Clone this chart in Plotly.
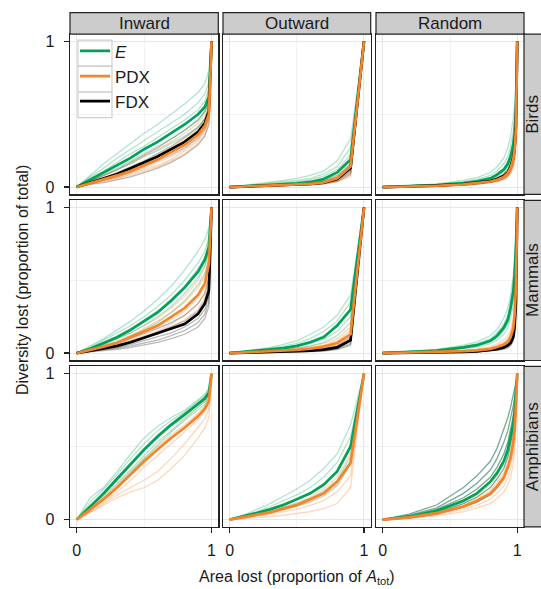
import plotly.graph_objects as go
from plotly.subplots import make_subplots

# ---------------- data ----------------
ROWS = ["Birds", "Mammals", "Amphibians"]
COLS = ["Inward", "Outward", "Random"]
SERIES = ["E", "PDX", "FDX"]
LEGEND_NAMES = ["<i>E</i>", "PDX", "FDX"]
TICKS = [0, 1]
TICK_LABELS = ["0", "1"]

X_IN = [0, .1, .2, .3, .4, .5, .6, .7, .8, .9, .95, .98, 1]
X_OUT = [0, .1, .2, .3, .4, .5, .6, .7, .8, .9, 1]
X_RAND = [0, .2, .4, .6, .7, .8, .85, .9, .93, .95, .97, .98, .99, 1]

# Birds / Inward
BIRDS_IN_E = [0, .05, .10, .15, .20, .26, .31, .37, .43, .50, .55, .62, 1]
BIRDS_IN_E_RUNS = [
    [0, .08, .16, .23, .30, .37, .43, .50, .57, .65, .71, .80, 1],
    [0, .07, .13, .20, .26, .32, .38, .44, .50, .58, .64, .72, 1],
    [0, .06, .11, .17, .23, .28, .34, .40, .46, .53, .59, .67, 1],
    [0, .04, .09, .13, .18, .23, .28, .33, .39, .46, .52, .58, 1],
    [0, .04, .08, .12, .16, .21, .25, .30, .35, .41, .47, .54, 1],
]
BIRDS_IN_PDX = [0, .025, .05, .08, .11, .15, .19, .24, .29, .36, .42, .50, 1]
BIRDS_IN_PDX_RUNS = [
    [0, .04, .08, .12, .16, .21, .26, .31, .37, .44, .50, .58, 1],
    [0, .03, .06, .10, .13, .17, .22, .27, .33, .40, .46, .54, 1],
    [0, .02, .05, .07, .10, .13, .17, .21, .26, .33, .39, .47, 1],
    [0, .02, .04, .06, .08, .11, .14, .18, .23, .30, .36, .44, 1],
    [0, .02, .04, .06, .09, .12, .15, .19, .25, .32, .38, .48, 1],
]
BIRDS_IN_FDX = [0, .03, .06, .09, .13, .17, .21, .26, .31, .38, .44, .52, 1]
BIRDS_IN_FDX_RUNS = [
    [0, .04, .08, .12, .17, .22, .27, .33, .39, .46, .52, .60, 1],
    [0, .03, .06, .10, .14, .18, .23, .28, .34, .41, .47, .55, 1],
    [0, .02, .05, .07, .10, .14, .18, .22, .27, .34, .40, .48, 1],
    [0, .02, .03, .05, .07, .10, .13, .17, .22, .29, .35, .43, 1],
    [0, .03, .05, .08, .11, .15, .19, .24, .30, .37, .43, .51, 1],
]

# Birds / Outward
BIRDS_OUT_E = [0, .005, .01, .015, .02, .025, .035, .055, .10, .19, 1]
BIRDS_OUT_E_RUNS = [
    [0, .01, .02, .03, .045, .06, .08, .11, .18, .33, 1],
    [0, .008, .015, .025, .035, .045, .06, .09, .14, .27, 1],
    [0, .006, .012, .02, .028, .035, .05, .075, .12, .22, 1],
    [0, .005, .01, .015, .02, .027, .038, .06, .10, .18, 1],
    [0, .004, .008, .012, .017, .022, .03, .045, .08, .15, 1],
]
BIRDS_OUT_PDX = [0, .003, .006, .01, .013, .017, .022, .032, .06, .14, 1]
BIRDS_OUT_PDX_RUNS = [
    [0, .005, .01, .015, .02, .027, .035, .05, .08, .18, 1],
    [0, .004, .008, .012, .016, .021, .028, .04, .065, .15, 1],
    [0, .003, .006, .009, .012, .016, .021, .03, .05, .12, 1],
    [0, .002, .004, .007, .01, .013, .017, .025, .04, .09, 1],
    [0, .002, .004, .006, .008, .011, .015, .022, .035, .07, 1],
]
BIRDS_OUT_FDX = [0, .003, .006, .009, .012, .016, .021, .03, .055, .13, 1]
BIRDS_OUT_FDX_RUNS = [
    [0, .004, .008, .012, .016, .021, .028, .04, .07, .16, 1],
    [0, .003, .006, .01, .013, .017, .023, .033, .058, .13, 1],
    [0, .002, .005, .008, .011, .014, .019, .027, .047, .11, 1],
    [0, .002, .004, .006, .008, .011, .015, .022, .038, .085, 1],
    [0, .003, .005, .008, .01, .013, .018, .026, .045, .10, 1],
]

# Birds / Random
BIRDS_RAND_E = [0, .006, .014, .028, .04, .06, .085, .12, .16, .21, .29, .37, .52, 1]
BIRDS_RAND_E_RUNS = [
    [0, .01, .022, .045, .065, .10, .14, .20, .27, .35, .47, .57, .72, 1],
    [0, .008, .018, .036, .052, .08, .11, .16, .21, .28, .38, .47, .62, 1],
    [0, .007, .015, .03, .044, .066, .092, .13, .18, .23, .32, .40, .55, 1],
    [0, .005, .012, .024, .035, .053, .075, .105, .14, .185, .26, .33, .47, 1],
    [0, .004, .01, .02, .03, .045, .063, .09, .12, .16, .22, .28, .41, 1],
]
BIRDS_RAND_PDX = [0, .004, .009, .018, .026, .038, .05, .07, .095, .13, .19, .26, .40, 1]
BIRDS_RAND_PDX_RUNS = [
    [0, .005, .012, .024, .034, .05, .066, .09, .12, .16, .23, .30, .45, 1],
    [0, .004, .01, .02, .029, .042, .056, .078, .105, .14, .20, .27, .41, 1],
    [0, .004, .008, .016, .023, .034, .046, .064, .087, .12, .17, .23, .36, 1],
    [0, .003, .007, .014, .02, .03, .04, .056, .076, .10, .15, .20, .32, 1],
    [0, .003, .006, .012, .017, .026, .035, .05, .068, .09, .13, .18, .29, 1],
]
BIRDS_RAND_FDX = [0, .004, .01, .02, .028, .041, .055, .077, .10, .14, .20, .27, .42, 1]
BIRDS_RAND_FDX_RUNS = [
    [0, .005, .012, .023, .033, .048, .064, .088, .12, .16, .22, .30, .45, 1],
    [0, .004, .01, .019, .027, .04, .053, .074, .10, .135, .19, .26, .40, 1],
    [0, .003, .008, .016, .022, .033, .045, .063, .085, .115, .17, .23, .36, 1],
    [0, .003, .007, .014, .02, .03, .04, .056, .076, .10, .15, .20, .32, 1],
    [0, .004, .009, .018, .025, .037, .05, .07, .095, .125, .18, .25, .39, 1],
]

# Mammals / Inward
MAMMALS_IN_E = [0, .03, .07, .11, .16, .22, .28, .36, .45, .56, .64, .73, 1]
MAMMALS_IN_E_RUNS = [
    [0, .05, .10, .16, .22, .29, .37, .46, .57, .70, .78, .86, 1],
    [0, .04, .09, .14, .19, .25, .32, .40, .50, .62, .70, .80, 1],
    [0, .035, .075, .12, .17, .23, .29, .37, .46, .58, .66, .76, 1],
    [0, .03, .06, .10, .14, .19, .25, .32, .41, .52, .60, .69, 1],
    [0, .025, .05, .08, .12, .16, .21, .28, .36, .47, .55, .64, 1],
]
MAMMALS_IN_PDX = [0, .02, .045, .07, .11, .15, .19, .25, .31, .40, .48, .61, 1]
MAMMALS_IN_PDX_RUNS = [
    [0, .03, .06, .10, .14, .19, .24, .31, .39, .50, .59, .72, 1],
    [0, .025, .05, .085, .12, .17, .22, .28, .35, .45, .53, .66, 1],
    [0, .02, .04, .065, .10, .14, .18, .23, .29, .38, .46, .58, 1],
    [0, .015, .035, .055, .085, .12, .155, .20, .26, .34, .42, .54, 1],
    [0, .015, .03, .05, .075, .10, .135, .175, .23, .30, .38, .50, 1],
]
MAMMALS_IN_FDX = [0, .015, .03, .05, .075, .105, .135, .165, .20, .27, .34, .43, 1]
MAMMALS_IN_FDX_RUNS = [
    [0, .02, .04, .07, .10, .135, .17, .21, .26, .34, .41, .52, 1],
    [0, .015, .035, .055, .08, .11, .145, .18, .22, .29, .36, .46, 1],
    [0, .012, .025, .04, .06, .085, .11, .14, .18, .24, .30, .39, 1],
    [0, .01, .02, .035, .05, .07, .09, .12, .155, .21, .27, .35, 1],
    [0, .008, .016, .027, .04, .057, .075, .10, .13, .18, .24, .32, 1],
]

# Mammals / Outward
MAMMALS_OUT_E = [0, .008, .016, .025, .035, .05, .075, .11, .19, .30, 1]
MAMMALS_OUT_E_RUNS = [
    [0, .012, .025, .04, .06, .085, .13, .18, .26, .40, 1],
    [0, .01, .02, .033, .048, .068, .10, .15, .22, .35, 1],
    [0, .008, .017, .027, .038, .054, .08, .12, .18, .29, 1],
    [0, .007, .014, .022, .031, .044, .065, .095, .15, .25, 1],
    [0, .006, .012, .018, .025, .035, .05, .075, .12, .21, 1],
]
MAMMALS_OUT_PDX = [0, .004, .008, .012, .017, .023, .032, .045, .07, .13, 1]
MAMMALS_OUT_PDX_RUNS = [
    [0, .006, .012, .018, .025, .034, .048, .068, .10, .18, 1],
    [0, .005, .01, .015, .021, .028, .04, .056, .085, .155, 1],
    [0, .004, .008, .012, .017, .023, .032, .046, .07, .13, 1],
    [0, .003, .006, .01, .014, .019, .026, .037, .057, .11, 1],
    [0, .003, .005, .008, .011, .015, .021, .03, .047, .09, 1],
]
MAMMALS_OUT_FDX = [0, .002, .004, .007, .009, .012, .017, .025, .04, .09, 1]
MAMMALS_OUT_FDX_RUNS = [
    [0, .003, .006, .009, .012, .016, .022, .032, .05, .11, 1],
    [0, .002, .005, .008, .01, .014, .019, .027, .043, .095, 1],
    [0, .002, .004, .006, .008, .011, .015, .022, .035, .08, 1],
    [0, .001, .003, .005, .007, .009, .013, .018, .03, .065, 1],
    [0, .001, .002, .004, .006, .008, .011, .015, .025, .055, 1],
]

# Mammals / Random
MAMMALS_RAND_E = [0, .008, .018, .04, .055, .085, .12, .175, .23, .31, .42, .54, .72, 1]
MAMMALS_RAND_E_RUNS = [
    [0, .012, .026, .055, .078, .12, .165, .24, .31, .40, .53, .65, .80, 1],
    [0, .01, .022, .047, .066, .10, .14, .20, .26, .35, .47, .59, .76, 1],
    [0, .009, .019, .042, .058, .09, .125, .18, .235, .32, .43, .55, .73, 1],
    [0, .007, .016, .036, .05, .077, .107, .155, .205, .28, .38, .50, .68, 1],
    [0, .006, .013, .03, .042, .065, .09, .13, .175, .24, .33, .44, .62, 1],
]
MAMMALS_RAND_PDX = [0, .003, .007, .014, .02, .03, .042, .06, .08, .11, .17, .26, .45, 1]
MAMMALS_RAND_PDX_RUNS = [
    [0, .005, .01, .02, .03, .045, .062, .09, .12, .16, .24, .34, .55, 1],
    [0, .004, .008, .017, .025, .037, .052, .075, .10, .135, .20, .30, .50, 1],
    [0, .003, .007, .014, .02, .03, .042, .06, .08, .11, .17, .26, .45, 1],
    [0, .003, .006, .012, .017, .025, .035, .05, .067, .09, .14, .22, .40, 1],
    [0, .002, .005, .01, .014, .021, .029, .042, .056, .075, .12, .19, .36, 1],
]
MAMMALS_RAND_FDX = [0, .002, .005, .009, .013, .02, .028, .04, .053, .07, .11, .18, .35, 1]
MAMMALS_RAND_FDX_RUNS = [
    [0, .003, .007, .013, .019, .028, .039, .055, .073, .095, .15, .23, .42, 1],
    [0, .003, .006, .011, .016, .024, .033, .047, .063, .083, .13, .20, .38, 1],
    [0, .002, .005, .009, .013, .02, .027, .039, .052, .07, .11, .17, .34, 1],
    [0, .002, .004, .008, .011, .017, .023, .033, .044, .06, .095, .15, .31, 1],
    [0, .001, .003, .006, .009, .014, .019, .027, .036, .05, .08, .13, .28, 1],
]

# Amphibians / Inward (no FDX)
AMPH_IN_E = [0, .09, .18, .28, .38, .48, .57, .65, .72, .79, .83, .87, 1]
AMPH_IN_E_RUNS = [
    [0, .15, .22, .33, .45, .56, .64, .70, .75, .82, .86, .90, 1],
    [0, .12, .21, .31, .42, .52, .61, .68, .74, .81, .85, .89, 1],
    [0, .09, .19, .29, .39, .49, .58, .66, .73, .80, .84, .88, 1],
    [0, .07, .16, .25, .34, .44, .53, .61, .69, .77, .81, .85, 1],
    [0, .06, .14, .23, .32, .42, .51, .60, .68, .75, .79, .84, 1],
]
AMPH_IN_PDX = [0, .07, .14, .22, .31, .40, .48, .56, .63, .71, .76, .81, 1]
AMPH_IN_PDX_RUNS = [
    [0, .08, .17, .27, .37, .47, .56, .64, .70, .77, .81, .86, 1],
    [0, .07, .15, .24, .33, .42, .50, .58, .65, .73, .78, .83, 1],
    [0, .06, .12, .19, .27, .36, .44, .52, .60, .69, .74, .80, 1],
    [0, .05, .11, .17, .22, .27, .33, .42, .52, .63, .69, .76, 1],
    [0, .05, .10, .15, .19, .22, .27, .35, .44, .56, .63, .70, 1],
]

# Amphibians / Outward
AMPH_OUT_E = [0, .02, .045, .07, .10, .14, .18, .24, .33, .50, 1]
AMPH_OUT_E_RUNS = [
    [0, .03, .07, .11, .16, .21, .27, .35, .45, .65, 1],
    [0, .025, .055, .09, .13, .17, .22, .29, .39, .57, 1],
    [0, .02, .045, .075, .105, .14, .185, .245, .33, .50, 1],
    [0, .015, .035, .055, .08, .11, .145, .195, .27, .43, 1],
    [0, .012, .027, .045, .065, .09, .12, .16, .23, .38, 1],
]
AMPH_OUT_PDX = [0, .015, .03, .05, .075, .10, .14, .18, .26, .39, 1]
AMPH_OUT_PDX_RUNS = [
    [0, .02, .045, .07, .10, .14, .18, .24, .33, .52, 1],
    [0, .018, .038, .06, .085, .115, .155, .21, .29, .45, 1],
    [0, .014, .03, .048, .07, .095, .125, .17, .24, .38, 1],
    [0, .01, .022, .036, .052, .072, .097, .13, .19, .30, 1],
    [0, .006, .012, .02, .03, .04, .055, .075, .11, .22, 1],
]

# Amphibians / Random
AMPH_RAND_E = [0, .02, .06, .13, .18, .26, .32, .40, .48, .56, .66, .74, .85, 1]
AMPH_RAND_E_RUNS = [
    [0, .04, .10, .22, .30, .40, .49, .62, .70, .77, .85, .89, .94, 1],
    [0, .03, .08, .18, .25, .34, .42, .53, .61, .69, .78, .84, .91, 1],
    [0, .025, .07, .15, .21, .29, .36, .45, .53, .61, .71, .78, .87, 1],
    [0, .018, .052, .11, .155, .22, .28, .35, .43, .51, .61, .69, .81, 1],
    [0, .012, .038, .085, .12, .17, .22, .28, .35, .43, .53, .62, .76, 1],
]
AMPH_RAND_PDX = [0, .015, .045, .09, .13, .18, .23, .29, .36, .42, .53, .62, .77, 1]
AMPH_RAND_PDX_RUNS = [
    [0, .022, .06, .12, .17, .24, .30, .38, .46, .53, .64, .72, .84, 1],
    [0, .018, .05, .10, .145, .20, .255, .32, .40, .47, .58, .67, .80, 1],
    [0, .014, .04, .085, .12, .17, .215, .27, .34, .40, .51, .60, .75, 1],
    [0, .011, .033, .07, .10, .14, .18, .23, .29, .35, .45, .55, .71, 1],
    [0, .008, .025, .055, .08, .11, .145, .19, .24, .29, .38, .48, .65, 1],
]

# ---------------- assemble ----------------
PANELS = {
    (0, 0): (X_IN, {"E": (BIRDS_IN_E, BIRDS_IN_E_RUNS), "PDX": (BIRDS_IN_PDX, BIRDS_IN_PDX_RUNS), "FDX": (BIRDS_IN_FDX, BIRDS_IN_FDX_RUNS)}),
    (0, 1): (X_OUT, {"E": (BIRDS_OUT_E, BIRDS_OUT_E_RUNS), "PDX": (BIRDS_OUT_PDX, BIRDS_OUT_PDX_RUNS), "FDX": (BIRDS_OUT_FDX, BIRDS_OUT_FDX_RUNS)}),
    (0, 2): (X_RAND, {"E": (BIRDS_RAND_E, BIRDS_RAND_E_RUNS), "PDX": (BIRDS_RAND_PDX, BIRDS_RAND_PDX_RUNS), "FDX": (BIRDS_RAND_FDX, BIRDS_RAND_FDX_RUNS)}),
    (1, 0): (X_IN, {"E": (MAMMALS_IN_E, MAMMALS_IN_E_RUNS), "PDX": (MAMMALS_IN_PDX, MAMMALS_IN_PDX_RUNS), "FDX": (MAMMALS_IN_FDX, MAMMALS_IN_FDX_RUNS)}),
    (1, 1): (X_OUT, {"E": (MAMMALS_OUT_E, MAMMALS_OUT_E_RUNS), "PDX": (MAMMALS_OUT_PDX, MAMMALS_OUT_PDX_RUNS), "FDX": (MAMMALS_OUT_FDX, MAMMALS_OUT_FDX_RUNS)}),
    (1, 2): (X_RAND, {"E": (MAMMALS_RAND_E, MAMMALS_RAND_E_RUNS), "PDX": (MAMMALS_RAND_PDX, MAMMALS_RAND_PDX_RUNS), "FDX": (MAMMALS_RAND_FDX, MAMMALS_RAND_FDX_RUNS)}),
    (2, 0): (X_IN, {"E": (AMPH_IN_E, AMPH_IN_E_RUNS), "PDX": (AMPH_IN_PDX, AMPH_IN_PDX_RUNS)}),
    (2, 1): (X_OUT, {"E": (AMPH_OUT_E, AMPH_OUT_E_RUNS), "PDX": (AMPH_OUT_PDX, AMPH_OUT_PDX_RUNS)}),
    (2, 2): (X_RAND, {"E": (AMPH_RAND_E, AMPH_RAND_E_RUNS), "PDX": (AMPH_RAND_PDX, AMPH_RAND_PDX_RUNS)}),
}

THICK = {"E": "#00A25A", "PDX": "#F5842A", "FDX": "#000000"}
THIN = {"E": "rgba(0,162,90,0.3)", "PDX": "rgba(245,132,42,0.32)", "FDX": "rgba(0,0,0,0.28)"}
THIN_DARK_E = "rgba(30,115,75,0.6)"
FONT = "Liberation Sans, Arial, Helvetica, sans-serif"

W, H = 541, 589
COL_PX = [(70, 218.3), (223, 370.7), (376, 524)]
ROW_PX = [(33.3, 194), (200, 360.7), (366.7, 527.7)]
STRIP_TOP = 11.7
STRIP_RIGHT = 542
LEGEND_BOX_X = (78, 112)
LEGEND_BOX_Y = [39.3, 65.3, 91.3, 117]

fig = make_subplots(rows=3, cols=3)

def axnames(r, c):
    i = r * 3 + c + 1
    s = "" if i == 1 else str(i)
    return "x" + s, "y" + s

# thin runs first
for (r, c), (xs, series) in PANELS.items():
    for name in ["FDX", "PDX", "E"]:
        if name not in series:
            continue
        mean, runs = series[name]
        col = THIN[name]
        if name == "E" and (r, c) == (2, 2):
            col = THIN_DARK_E
        for run in runs:
            fig.add_trace(go.Scatter(x=xs, y=run, mode="lines", line=dict(color=col, width=1.3),
                                     showlegend=False, hoverinfo="skip"), row=r + 1, col=c + 1)

# thick means
for (r, c), (xs, series) in PANELS.items():
    for name in ["E", "FDX", "PDX"]:
        if name not in series:
            continue
        mean, runs = series[name]
        first = (r, c) == (0, 0)
        fig.add_trace(go.Scatter(x=xs, y=mean, mode="lines", line=dict(color=THICK[name], width=2.7),
                                 name=LEGEND_NAMES[SERIES.index(name)], showlegend=first,
                                 legendrank=SERIES.index(name) + 1, hoverinfo="skip"),
                      row=r + 1, col=c + 1)

shapes = []
annotations = []
for r in range(3):
    for c in range(3):
        xn, yn = axnames(r, c)
        xl = "xaxis" + xn[1:]
        yl = "yaxis" + yn[1:]
        x0p, x1p = COL_PX[c]
        y0p, y1p = ROW_PX[r]
        common = dict(range=[-0.05, 1.05], showline=True, mirror=True, linecolor="#222222", linewidth=1.4,
                      showgrid=True, gridcolor="#E6E6E6", gridwidth=1, zeroline=False,
                      tickvals=TICKS, ticktext=TICK_LABELS,
                      minor=dict(tickvals=[0.5], showgrid=True, gridcolor="#F2F2F2", gridwidth=1, ticks=""),
                      tickfont=dict(family=FONT, size=16, color="#1a1a1a"), fixedrange=True)
        fig.layout[xl].update(common, domain=[x0p / W, x1p / W],
                              ticks="outside" if r == 2 else "", ticklen=5, tickwidth=1.4, tickcolor="#222222",
                              showticklabels=(r == 2), ticklabelstandoff=3)
        fig.layout[yl].update(common, domain=[1 - y1p / H, 1 - y0p / H],
                              ticks="outside" if c == 0 else "", ticklen=5, tickwidth=1.4, tickcolor="#222222",
                              showticklabels=(c == 0), ticklabelstandoff=6)
        if r == 0:
            hdom = (y0p - STRIP_TOP) / (y1p - y0p)
            shapes.append(dict(type="rect", xref=xn + " domain", yref=yn + " domain", x0=0, x1=1, y0=1, y1=1 + hdom,
                               fillcolor="#CCCCCC", line=dict(color="#222222", width=1.2), layer="above"))
            annotations.append(dict(text=COLS[c], xref=xn + " domain", yref=yn + " domain", x=0.5, y=1 + hdom / 2,
                                    showarrow=False, font=dict(family=FONT, size=17, color="#1a1a1a"),
                                    xanchor="center", yanchor="middle"))
        if c == 2:
            wdom = (STRIP_RIGHT - x1p) / (x1p - x0p)
            shapes.append(dict(type="rect", xref=xn + " domain", yref=yn + " domain", x0=1, x1=1 + wdom, y0=0, y1=1,
                               fillcolor="#CCCCCC", line=dict(color="#222222", width=1.2), layer="above"))
            annotations.append(dict(text=ROWS[r], xref=xn + " domain", yref=yn + " domain", x=1 + (532.5 - x1p) / (x1p - x0p),
                                    y=0.5, textangle=-90, showarrow=False,
                                    font=dict(family=FONT, size=17, color="#1a1a1a"),
                                    xanchor="center", yanchor="middle"))

# legend key frames (decoration behind the native legend)
for i in range(3):
    shapes.append(dict(type="rect", xref="paper", yref="paper",
                       x0=LEGEND_BOX_X[0] / W, x1=LEGEND_BOX_X[1] / W,
                       y0=1 - LEGEND_BOX_Y[i + 1] / H, y1=1 - LEGEND_BOX_Y[i] / H,
                       fillcolor="rgba(0,0,0,0)", line=dict(color="#D0D0D0", width=1.2), layer="above"))

annotations.append(dict(text="Area lost (proportion of <i>A</i><sub>tot</sub>)", xref="paper", yref="paper",
                        x=297 / W, y=1 - 578 / H, showarrow=False, xanchor="center", yanchor="middle",
                        font=dict(family=FONT, size=16, color="#1a1a1a")))
annotations.append(dict(text="Diversity lost (proportion of total)", xref="paper", yref="paper",
                        x=22 / W, y=1 - 280 / H, showarrow=False, xanchor="center", yanchor="middle",
                        textangle=-90, font=dict(family=FONT, size=16, color="#1a1a1a")))

fig.update_layout(
    width=W, height=H, margin=dict(l=0, r=0, t=0, b=0),
    paper_bgcolor="white", plot_bgcolor="white",
    shapes=shapes, annotations=annotations,
    legend=dict(x=75 / W, y=1 - 32.5 / H, xanchor="left", yanchor="top", bgcolor="rgba(0,0,0,0)",
                font=dict(family=FONT, size=17, color="#1a1a1a"), itemwidth=30, tracegroupgap=0,
                traceorder="normal"),
    font=dict(family=FONT),
)

fig.write_html("out.html", config={"displayModeBar": False, "staticPlot": True},
               post_script="document.body.style.margin='0';document.body.style.overflow='hidden';")
